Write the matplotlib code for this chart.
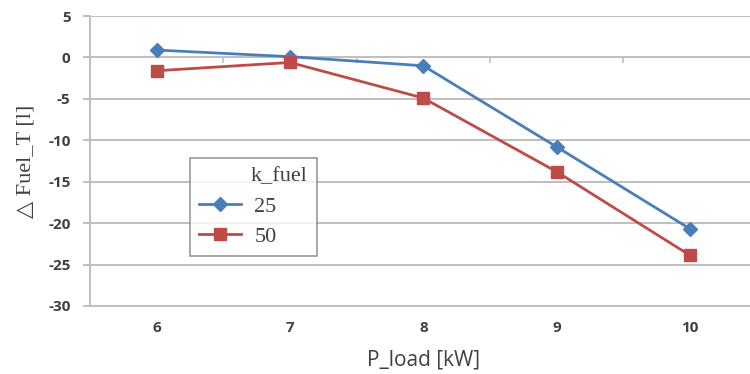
import numpy as np
import matplotlib
matplotlib.use("Agg")
import matplotlib.pyplot as plt

plt.rcParams['axes.unicode_minus'] = False

# data
p_load = [6, 7, 8, 9, 10]
fuel_25 = [0.9, 0.1, -1.0, -10.8, -20.7]
fuel_50 = [-1.6, -0.6, -4.9, -13.8, -23.9]
y_ticks = [5, 0, -5, -10, -15, -20, -25, -30]

blue = '#4a7ebb'
red = '#be4b48'
grid_c = '#bfbfbf'
text_c = '#404040'

fig = plt.figure(figsize=(7.5, 3.74), dpi=100)
ax = fig.add_axes([0.12, 0.182, 0.889, 0.775])

ax.plot(p_load, fuel_25, color=blue, lw=2.0, marker='D', ms=7, label='25', zorder=3)
ax.plot(p_load, fuel_50, color=red, lw=2.0, marker='s', ms=8.5, label='50', zorder=3)

ax.set_xlim(5.5, 10.5)
ax.set_ylim(-30, 5)
ax.set_yticks(y_ticks)
ax.set_xticks(p_load)
ax.yaxis.grid(True, color=grid_c, lw=1.4)
ax.set_axisbelow(True)

for s in ['top', 'right']:
    ax.spines[s].set_visible(False)
for s in ['left', 'bottom']:
    ax.spines[s].set_color(grid_c)
    ax.spines[s].set_linewidth(1.4)

ax.tick_params(axis='y', length=5, color=grid_c, width=1.4, pad=9,
               labelsize=11, labelcolor=text_c)
ax.tick_params(axis='x', length=0, pad=11, labelsize=11, labelcolor=text_c)
for lab in ax.get_xticklabels() + ax.get_yticklabels():
    lab.set_fontfamily('Open Sans')
    lab.set_fontweight('bold')

# small category ticks on the zero line (Excel style)
sec = ax.secondary_xaxis(30 / 35)
sec.set_xticks([6.5, 7.5, 8.5, 9.5])
sec.set_xticklabels([])
sec.tick_params(length=4, color=grid_c, width=1.2, direction='out')
sec.spines['bottom'].set_visible(False)
sec.spines['top'].set_visible(False)
sec.xaxis.set_ticks_position('bottom')

ax.set_xlabel('P_load [kW]', fontsize=15, family='Open Sans', color=text_c, labelpad=10)
ax.set_ylabel('\u25b3 Fuel_T [l]', fontsize=16, family=['Liberation Serif', 'DejaVu Sans'],
              color=text_c, labelpad=9)

leg = ax.legend(title='k_fuel', loc='upper left',
                bbox_to_anchor=(0.150, 0.169, 0.190, 0.341), mode='expand',
                prop={'family': 'Liberation Serif', 'size': 16},
                title_fontproperties={'family': 'Liberation Serif', 'size': 16},
                alignment='right', frameon=True, fancybox=False,
                handlelength=1.9, handletextpad=0.6, borderpad=0.4,
                labelspacing=0.45, borderaxespad=0)
leg.get_frame().set_edgecolor('#808080')
leg.get_frame().set_linewidth(1.2)
leg.get_title().set_color(text_c)
for t in leg.get_texts():
    t.set_color(text_c)

fig.savefig('out.png', dpi=100)
